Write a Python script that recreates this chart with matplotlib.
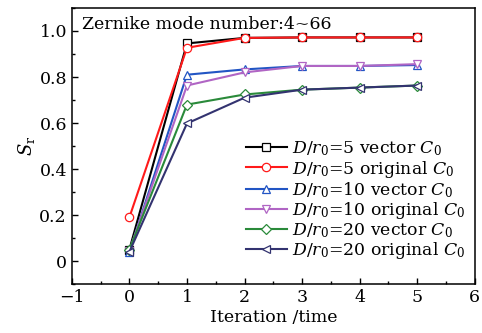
import matplotlib
matplotlib.use("Agg")
import matplotlib.pyplot as plt
from matplotlib.ticker import MultipleLocator, FuncFormatter

plt.rcParams["font.family"] = "DejaVu Serif"
plt.rcParams["mathtext.fontset"] = "dejavuserif"

iterations = [0, 1, 2, 3, 4, 5]
sr_d5_vector = [0.05, 0.946, 0.97, 0.972, 0.972, 0.972]
sr_d5_original = [0.19, 0.927, 0.97, 0.972, 0.972, 0.972]
sr_d10_vector = [0.04, 0.81, 0.833, 0.848, 0.848, 0.852]
sr_d10_original = [0.045, 0.763, 0.82, 0.848, 0.848, 0.856]
sr_d20_vector = [0.05, 0.68, 0.724, 0.745, 0.754, 0.763]
sr_d20_original = [0.04, 0.598, 0.71, 0.745, 0.754, 0.763]

series = [
    (sr_d5_vector, "$D/r_0$=5 vector $C_0$", "black", "s"),
    (sr_d5_original, "$D/r_0$=5 original $C_0$", "#ff1a1a", "o"),
    (sr_d10_vector, "$D/r_0$=10 vector $C_0$", "#2255c4", "^"),
    (sr_d10_original, "$D/r_0$=10 original $C_0$", "#b065c4", "v"),
    (sr_d20_vector, "$D/r_0$=20 vector $C_0$", "#2a8a3a", "D"),
    (sr_d20_original, "$D/r_0$=20 original $C_0$", "#333370", "<"),
]

fig = plt.figure(figsize=(4.82, 3.33), dpi=100)
ax = fig.add_axes([0.149, 0.147, 0.836, 0.829])

for vals, lab, col, mk in series:
    ms = 5 if mk == "D" else 6
    ax.plot(iterations, vals, color=col, marker=mk, markersize=ms,
            markerfacecolor="white", markeredgecolor=col, markeredgewidth=0.9,
            linewidth=1.5, label=lab)

ax.set_xlim(-1, 6)
ax.set_ylim(-0.1, 1.1)
ax.xaxis.set_major_locator(MultipleLocator(1))
ax.xaxis.set_minor_locator(MultipleLocator(0.5))
ax.yaxis.set_major_locator(MultipleLocator(0.2))
ax.yaxis.set_minor_locator(MultipleLocator(0.1))
ax.yaxis.set_major_formatter(FuncFormatter(lambda v, p: "0" if abs(v) < 1e-9 else f"{v:.1f}"))
ax.xaxis.set_major_formatter(FuncFormatter(lambda v, p: f"{int(round(v))}".replace("-", "\u2212")))
ax.tick_params(which="both", direction="in", top=False, right=False, labelsize=12.5)
ax.tick_params(which="major", length=4, width=1)
ax.tick_params(which="minor", length=2.5, width=1)
for s in ax.spines.values():
    s.set_linewidth(1.1)

ax.set_xlabel("Iteration /time", fontsize=12.5, labelpad=2)
ax.set_ylabel("$S_\\mathrm{r}$", fontsize=13, labelpad=2)
ax.text(0.025, 0.97, "Zernike mode number:4~66", transform=ax.transAxes,
        fontsize=12.5, va="top", ha="left")

ax.legend(loc="lower right", bbox_to_anchor=(0.985, 0.07), frameon=False,
          fontsize=12.4, handlelength=2.4, handletextpad=0.3,
          labelspacing=0.02, borderaxespad=0.0, borderpad=0.2)

fig.savefig("out.png", dpi=100)
